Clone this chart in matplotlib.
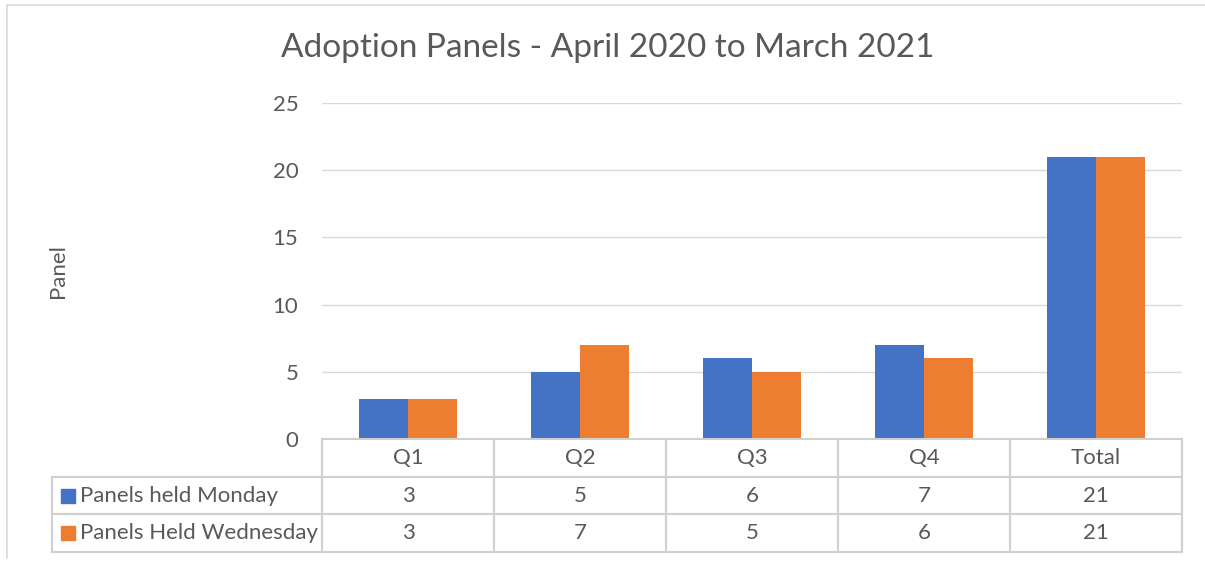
import matplotlib
matplotlib.use("Agg")
import matplotlib.pyplot as plt
from matplotlib.lines import Line2D
from matplotlib.patches import Rectangle

categories = ["Q1", "Q2", "Q3", "Q4", "Total"]
series_names = ["Panels held Monday", "Panels Held Wednesday"]
monday = [3, 5, 6, 7, 21]
wednesday = [3, 7, 5, 6, 21]
yticks = [0, 5, 10, 15, 20, 25]
title = "Adoption Panels - April 2020 to March 2021"
ylabel = "Panel"

colors = ["#4472C4", "#ED7D31"]
text_c = "#595959"
grid_c = "#D9D9D9"

plt.rcParams["font.family"] = ["Lato", "DejaVu Sans"]

W, H = 1205, 562
fig = plt.figure(figsize=(W / 100, H / 100), dpi=100)

def fx(x):
    return x / W

def fy(y):
    return 1 - y / H

ax_l, ax_r, ax_t, ax_b = 322, 1182, 103, 439
ax = fig.add_axes([fx(ax_l), fy(ax_b), fx(ax_r - ax_l), fy(ax_t) - fy(ax_b)])

n = len(categories)
x = list(range(n))
bw = 0.285
ax.bar([i - bw / 2 for i in x], monday, width=bw, color=colors[0], zorder=3)
ax.bar([i + bw / 2 for i in x], wednesday, width=bw, color=colors[1], zorder=3)
ax.set_xlim(-0.5, n - 0.5)
ax.set_ylim(0, 25)
ax.set_yticks(yticks)
ax.set_yticklabels([str(t) for t in yticks], fontsize=16, color=text_c)
ax.tick_params(axis="y", length=0, pad=17)
ax.set_xticks([])
ax.yaxis.grid(True, color=grid_c, linewidth=1, zorder=0)
for s in ax.spines.values():
    s.set_visible(False)

# frame
fig.add_artist(Line2D([fx(7), fx(7)], [fy(5), fy(558)], color=grid_c, lw=1.2))
fig.add_artist(Line2D([fx(7), fx(1205)], [fy(5), fy(5)], color=grid_c, lw=1.2))

fig.text(fx(608), fy(48), title, fontsize=24, color=text_c, ha="center", va="center")
fig.text(fx(58), fy(271), ylabel, fontsize=16, color=text_c, ha="center", va="center", rotation=90)

# data table
col_w = (ax_r - ax_l) / n
rows_y = [439, 477, 514, 552]
tl = dict(color="#D0D0D0", lw=1.5)
fig.add_artist(Line2D([fx(ax_l), fx(ax_r)], [fy(rows_y[0])] * 2, **tl))
for yy in rows_y[1:]:
    fig.add_artist(Line2D([fx(52), fx(ax_r)], [fy(yy)] * 2, **tl))
fig.add_artist(Line2D([fx(52), fx(52)], [fy(rows_y[1]), fy(rows_y[3])], **tl))
for i in range(n + 1):
    xx = ax_l + i * col_w
    fig.add_artist(Line2D([fx(xx), fx(xx)], [fy(rows_y[0]), fy(rows_y[3])], **tl))

for i, c in enumerate(categories):
    cx = ax_l + (i + 0.5) * col_w
    fig.text(fx(cx), fy((rows_y[0] + rows_y[1]) / 2), c, fontsize=16, color=text_c, ha="center", va="center")
    fig.text(fx(cx), fy((rows_y[1] + rows_y[2]) / 2), str(monday[i]), fontsize=16, color=text_c, ha="center", va="center")
    fig.text(fx(cx), fy((rows_y[2] + rows_y[3]) / 2), str(wednesday[i]), fontsize=16, color=text_c, ha="center", va="center")

for r, (name, col) in enumerate(zip(series_names, colors)):
    cy = (rows_y[r + 1] + rows_y[r + 2]) / 2
    fig.add_artist(Rectangle((fx(61), fy(cy + 7)), fx(14), fy(cy - 7) - fy(cy + 7), color=col))
    fig.text(fx(80), fy(cy), name, fontsize=16, color=text_c, ha="left", va="center")

fig.savefig("out.png", dpi=100)
